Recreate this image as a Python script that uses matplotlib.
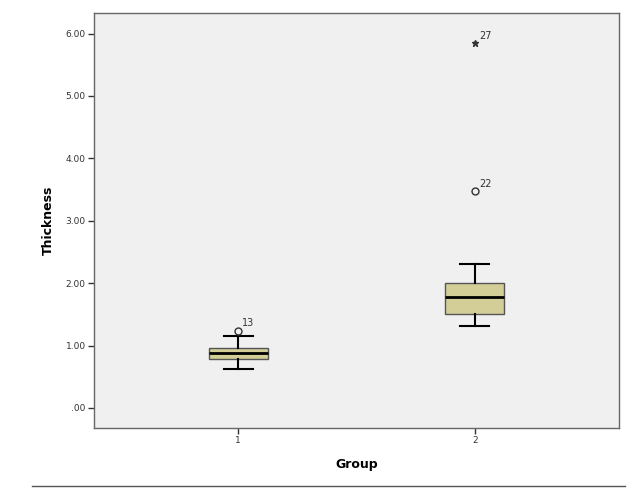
import matplotlib.pyplot as plt
from matplotlib.ticker import FuncFormatter
from matplotlib.lines import Line2D

# box plot statistics
groups = [1, 2]
whislo = [0.62, 1.31]
q1 = [0.78, 1.50]
med = [0.877, 1.78]
q3 = [0.966, 2.01]
whishi = [1.154, 2.31]

# outliers (case number, group, value, marker)
out_case = ["13", "22", "27"]
out_group = [1, 2, 2]
out_value = [1.24, 3.48, 5.85]
out_marker = ["o", "o", "*"]

fig = plt.figure(figsize=(6.4, 4.97), dpi=100)
ax = fig.add_axes([0.147, 0.139, 0.820, 0.835])
ax.set_facecolor("#f0f0f0")

stats = []
for i in range(len(groups)):
    stats.append({"whislo": whislo[i], "q1": q1[i], "med": med[i],
                  "q3": q3[i], "whishi": whishi[i], "fliers": []})

ax.bxp(stats, positions=groups, widths=0.25, capwidths=0.125, patch_artist=True,
       showfliers=False,
       boxprops=dict(facecolor="#d3ce97", edgecolor="#555555", linewidth=1.0),
       medianprops=dict(color="black", linewidth=2.0),
       whiskerprops=dict(color="black", linewidth=1.5),
       capprops=dict(color="black", linewidth=1.5))

for name, g, v, m in zip(out_case, out_group, out_value, out_marker):
    if m == "o":
        ax.plot(g, v, marker="o", markersize=5, markerfacecolor="none",
                markeredgecolor="#333333", markeredgewidth=1.0)
    else:
        ax.plot(g, v, marker="*", markersize=5, color="#333333")
    ax.annotate(name, (g, v), xytext=(3, 3), textcoords="offset points",
                fontsize=7, color="#333333")

ax.set_xlim(0.39, 2.61)
ax.set_ylim(-0.32, 6.33)
ax.set_xticks(groups)
ax.set_xticklabels([str(g) for g in groups])
ax.set_yticks([0, 1, 2, 3, 4, 5, 6])
ax.yaxis.set_major_formatter(FuncFormatter(lambda v, p: f"{v:.2f}".lstrip("0") if v < 1 else f"{v:.2f}"))
ax.tick_params(axis="both", labelsize=6.5, colors="#333333", length=4, width=1.0, pad=2)
for s in ax.spines.values():
    s.set_color("#666666")
    s.set_linewidth(1.0)

ax.set_ylabel("Thickness", fontsize=9, fontweight="bold", labelpad=8)
ax.set_xlabel("Group", fontsize=9, fontweight="bold", labelpad=9)

fig.add_artist(Line2D([0.05, 0.977], [0.022, 0.022], color="#555555", linewidth=1.0))

fig.savefig("out.png", dpi=100)
